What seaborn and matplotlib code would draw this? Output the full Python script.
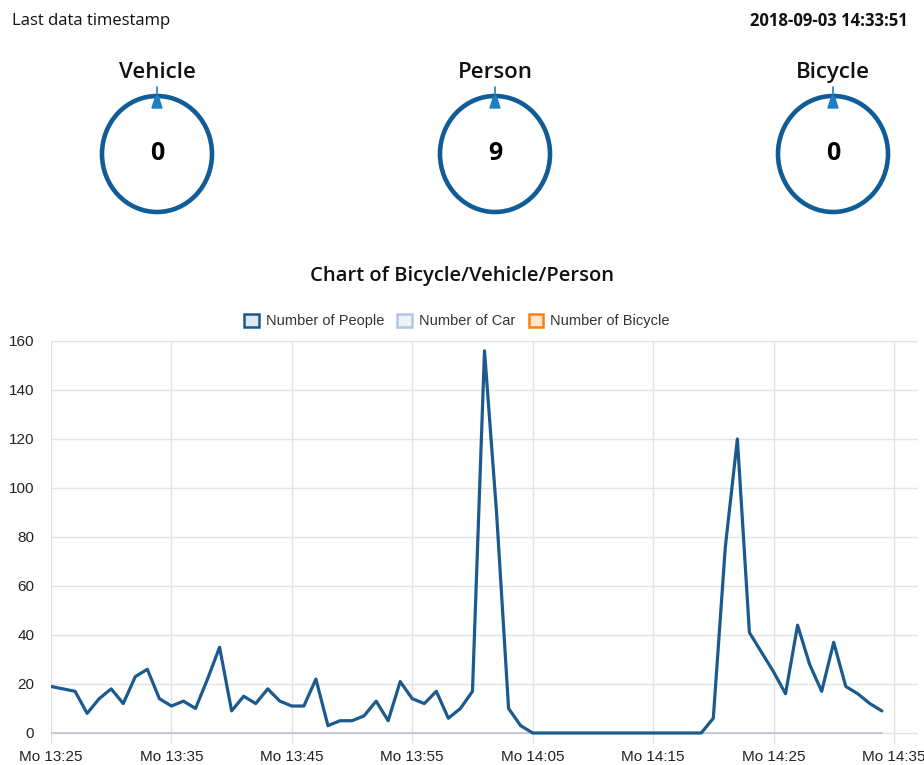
import matplotlib
matplotlib.use('Agg')
from matplotlib import pyplot as plt
from matplotlib.patches import Ellipse, Polygon, Patch
import matplotlib.dates as mdates
import numpy as np
import pandas as pd
import seaborn as sns

# header values
last_timestamp = '2018-09-03 14:33:51'
gauge_names = ['Vehicle', 'Person', 'Bicycle']
gauge_values = [0, 9, 0]

# one sample per minute starting 13:25
start_time = '2018-09-03 13:25'
people = [19, 18, 17, 8, 14, 18, 12, 23, 26, 14,
          11, 13, 10, 22, 35, 9, 15, 12, 18, 13,
          11, 11, 22, 3, 5, 5, 7, 13, 5, 21,
          14, 12, 17, 6, 10, 17, 156, 90, 10, 3,
          0, 0, 0, 0, 0, 0, 0, 0, 0, 0,
          0, 0, 0, 0, 0, 6, 76, 120, 41, 33,
          25, 16, 44, 28, 17, 37, 19, 16, 12, 9]
cars = [0] * len(people)
bicycles = [0] * len(people)
series_names = ['Number of People', 'Number of Car', 'Number of Bicycle']
colors = {'Number of People': '#1a5a8e', 'Number of Car': '#aec7e8', 'Number of Bicycle': '#ff7f0e'}
fills = {'Number of People': '#dce8f3', 'Number of Car': '#eef3fa', 'Number of Bicycle': '#ffe6d0'}

times = pd.date_range(start_time, periods=len(people), freq='min')
df = pd.DataFrame({'time': np.tile(times, 3),
                   'count': people + cars + bicycles,
                   'series': np.repeat(series_names, len(people))})

sns.set_theme(style='whitegrid')
plt.rcParams['font.family'] = ['Liberation Sans', 'DejaVu Sans']

W, H = 924, 765
fig = plt.figure(figsize=(W / 100, H / 100), dpi=100)

# ---- line chart ----
ax = fig.add_axes([51 / W, 1 - 744 / H, (918 - 51) / W, (744 - 341) / H])
sns.lineplot(data=df[df.series == 'Number of Bicycle'], x='time', y='count',
             color=colors['Number of Bicycle'], alpha=0.35, linewidth=1.2, ax=ax, legend=False)
sns.lineplot(data=df[df.series == 'Number of Car'], x='time', y='count',
             color=colors['Number of Car'], alpha=0.8, linewidth=1.2, ax=ax, legend=False)
sns.lineplot(data=df[df.series == 'Number of People'], x='time', y='count',
             color=colors['Number of People'], linewidth=2.3, ax=ax, legend=False)
ax.set_xlim(pd.Timestamp('2018-09-03 13:25'), pd.Timestamp('2018-09-03 14:37'))
ax.set_ylim(-4.5, 160)
ax.set_yticks(range(0, 161, 20))
ax.xaxis.set_major_locator(mdates.MinuteLocator(byminute=[5, 15, 25, 35, 45, 55]))
ax.xaxis.set_major_formatter(mdates.DateFormatter('Mo %H:%M'))
ax.set_xlabel('')
ax.set_ylabel('')
ax.grid(True, color='#e3e3e3', linewidth=1)
for s in ax.spines.values():
    s.set_visible(False)
ax.tick_params(axis='both', labelsize=11, labelcolor='#222222', length=0)
ax.tick_params(axis='y', pad=12)
ax.tick_params(axis='x', pad=4)
ax.set_facecolor('white')

# legend with square swatches
handles = [Patch(facecolor=fills[n], edgecolor=colors[n], linewidth=1.8, label=n) for n in series_names]
fig.legend(handles=handles, loc='center', bbox_to_anchor=(457 / W, 1 - 321 / H), ncol=3,
           frameon=False, fontsize=10.5, handlelength=1.0, handleheight=1.0,
           handletextpad=0.5, columnspacing=0.9, labelcolor='#333333')

# ---- header with gauges ----
top = fig.add_axes([0, 0, 1, 1], zorder=-1)
top.set_xlim(0, W)
top.set_ylim(H, 0)
top.axis('off')

top.text(12, 21, 'Last data timestamp', fontsize=12, family=['Open Sans', 'DejaVu Sans'],
         ha='left', va='center', color='#111111')
top.text(908, 21, last_timestamp, fontsize=12, family=['Open Sans', 'DejaVu Sans'],
         fontweight='bold', ha='right', va='center', color='#111111')

ring = '#0f5c96'
needle = '#1f7fc0'
for cx, name, val in zip([157, 495, 833], gauge_names, gauge_values):
    top.add_patch(Ellipse((cx, 154), 110, 116, fill=False, edgecolor=ring, linewidth=3.3))
    top.add_patch(Polygon([(cx - 5, 108), (cx + 5, 108), (cx + 1.5, 97), (cx - 1.5, 97)],
                          closed=True, color=needle, zorder=3))
    top.plot([cx, cx], [87, 100], color=needle, linewidth=1.2)
    top.text(cx, 72, name, fontsize=16, family=['Open Sans', 'DejaVu Sans'],
             fontweight='semibold', ha='center', va='center', color='#111111')
    top.text(cx, 153, str(val), fontsize=18, family=['Open Sans', 'DejaVu Sans'],
             fontweight='bold', ha='center', va='center', color='#000000')

top.text(462, 276, 'Chart of Bicycle/Vehicle/Person', fontsize=14.5,
         family=['Open Sans', 'DejaVu Sans'], fontweight='semibold',
         ha='center', va='center', color='#111111')

fig.savefig('out.png', dpi=100, facecolor='white')
